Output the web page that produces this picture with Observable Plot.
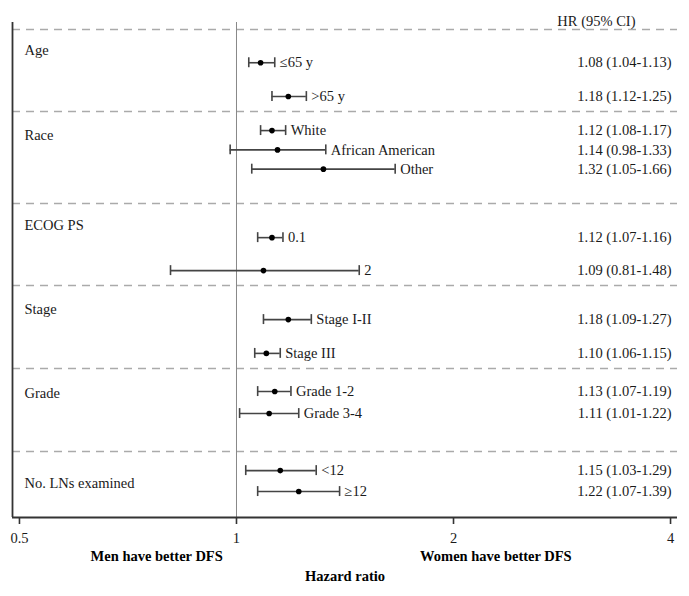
<!DOCTYPE html>
<html>
<head>
<meta charset="utf-8">
<script src="https://cdn.jsdelivr.net/npm/d3@7"></script>
<script src="https://cdn.jsdelivr.net/npm/@observablehq/plot@0.6"></script>
<style>
  html, body { margin: 0; padding: 0; background: #fff; }
  #chart svg { display: block; }
</style>
</head>
<body>
<div id="chart"></div>
<script>
// ---------- data ----------
const groups = ["Age", "Race", "ECOG PS", "Stage", "Grade", "No. LNs examined"];
const subgroups = [
  ["≤65 y", ">65 y"],
  ["White", "African American", "Other"],
  ["0.1", "2"],
  ["Stage I-II", "Stage III"],
  ["Grade 1-2", "Grade 3-4"],
  ["<12", "≥12"]
];
const hr     = [[1.08, 1.18], [1.12, 1.14, 1.32], [1.12, 1.09], [1.18, 1.10], [1.13, 1.11], [1.15, 1.22]];
const ciLow  = [[1.04, 1.12], [1.08, 0.98, 1.05], [1.07, 0.81], [1.09, 1.06], [1.07, 1.01], [1.03, 1.07]];
const ciHigh = [[1.13, 1.25], [1.17, 1.33, 1.66], [1.16, 1.48], [1.27, 1.15], [1.19, 1.22], [1.29, 1.39]];
const xTicks = [0.5, 1, 2, 4];
const refValue = 1;
const sideLabels = [
  {x: 0.775, text: "Men have better DFS"},
  {x: 2.29, text: "Women have better DFS"}
];
const columnHeader = "HR (95% CI)";
const axisTitle = "Hazard ratio";

// ---------- layout (table lines per group block) ----------
const layout = [
  {height: 3.95, label: 1.0,  first: 1.6,  step: 1.63},
  {height: 4.44, label: 1.15, first: 0.92, step: 0.93},
  {height: 3.95, label: 1.06, first: 1.64, step: 1.59},
  {height: 4.0,  label: 1.16, first: 1.64, step: 1.63},
  {height: 4.0,  label: 1.2,  first: 1.11, step: 1.06},
  {height: 3.18, label: 1.54, first: 0.92, step: 1.01}
];

const rows = [], groupRows = [], separators = [];
let blockTop = 0;
groups.forEach((g, gi) => {
  const L = layout[gi];
  separators.push(blockTop);
  groupRows.push({group: g, y: blockTop + L.label});
  subgroups[gi].forEach((label, i) => {
    rows.push({
      group: g, label,
      hr: hr[gi][i], lo: ciLow[gi][i], hi: ciHigh[gi][i],
      y: blockTop + L.first + i * L.step
    });
  });
  blockTop += L.height;
});
const yDomain = [-0.34, blockTop];
const xDomain = [0.489, 4.09];
const fmt = v => v.toFixed(2);
const capH = 0.24;

const font = "'Liberation Serif', 'Times New Roman', serif";
const ink = "#1a1a1a";
const barColor = "#444";

const chart = Plot.plot({
  width: 689,
  height: 596,
  marginLeft: 12,
  marginRight: 12,
  marginTop: 22,
  marginBottom: 79,
  style: {fontFamily: font, fontSize: "14.5px", color: ink, background: "#fff"},
  x: {type: "log", domain: xDomain, axis: null},
  y: {domain: yDomain, reverse: true, axis: null},
  marks: [
    Plot.ruleY(separators, {stroke: "#aaa", strokeWidth: 1.5, strokeDasharray: "8,6"}),
    Plot.ruleX([refValue], {stroke: "#888", strokeWidth: 1}),
    Plot.ruleX([xDomain[0]], {stroke: "#333", strokeWidth: 1.8}),
    Plot.ruleY([yDomain[1]], {stroke: "#333", strokeWidth: 1.8}),
    Plot.axisX({
      ticks: xTicks, tickFormat: d => String(d), tickSize: 7, tickPadding: 8,
      stroke: "#333", strokeWidth: 1.6, fontSize: "14.5px", fill: ink, label: null
    }),
    Plot.ruleY(rows, {y: "y", x1: "lo", x2: "hi", stroke: barColor, strokeWidth: 1.6}),
    Plot.ruleX(rows, {x: "lo", y1: d => d.y - capH, y2: d => d.y + capH, stroke: barColor, strokeWidth: 1.6}),
    Plot.ruleX(rows, {x: "hi", y1: d => d.y - capH, y2: d => d.y + capH, stroke: barColor, strokeWidth: 1.6}),
    Plot.dot(rows, {x: "hr", y: "y", r: 2.8, fill: "#000", stroke: null}),
    Plot.text(rows, {x: "hi", y: "y", text: "label", textAnchor: "start", dx: 5, fill: ink}),
    Plot.text(groupRows, {y: "y", text: "group", frameAnchor: "left", textAnchor: "start", dx: 12, fill: ink}),
    Plot.text(rows, {y: "y", text: d => `${fmt(d.hr)} (${fmt(d.lo)}-${fmt(d.hi)})`,
      frameAnchor: "right", textAnchor: "end", dx: -6, fill: ink}),
    Plot.text([columnHeader], {text: d => d, frameAnchor: "top-right", textAnchor: "end", dx: -42, dy: -7, fill: ink}),
    Plot.text(sideLabels, {x: "x", text: "text", frameAnchor: "bottom", dy: 43, fontWeight: "bold", fill: "#000"}),
    Plot.text([axisTitle], {text: d => d, frameAnchor: "bottom", dy: 63, fontWeight: "bold", fill: "#000"})
  ]
});
document.getElementById("chart").appendChild(chart);
</script>
</body>
</html>
